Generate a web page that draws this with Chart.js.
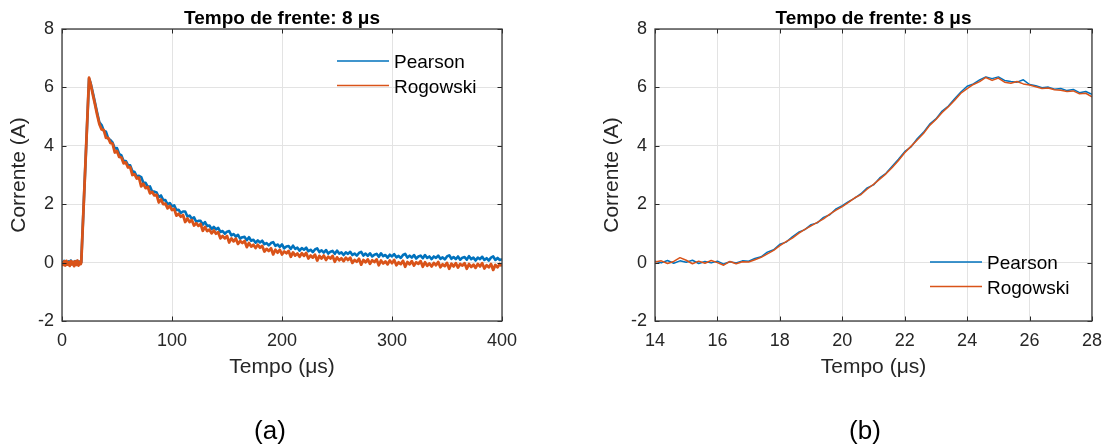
<!DOCTYPE html>
<html><head><meta charset="utf-8">
<script src="https://cdn.jsdelivr.net/npm/chart.js@4.4.1/dist/chart.umd.min.js"></script>
<style>
html,body{margin:0;padding:0;background:#fff;}
#wrap{position:relative;width:1111px;height:446px;overflow:hidden;}
.c{position:absolute;top:0;height:446px;}
</style></head><body>
<div id="wrap">
<div class="c" style="left:0;width:555px;"><canvas id="ca"></canvas></div>
<div class="c" style="left:555px;width:556px;"><canvas id="cb"></canvas></div>
</div>
<script>
// ---------- data ----------
const seriesNames = ['Pearson', 'Rogowski'];
const chartTitle = 'Tempo de frente: 8 μs';
const yTitle = 'Corrente (A)';
const xTitle = 'Tempo (μs)';
const panelLabels = ['(a)', '(b)'];
const yTicks = [-2, 0, 2, 4, 6, 8];
const xTicksA = [0, 100, 200, 300, 400];
const xTicksB = [14, 16, 18, 20, 22, 24, 26, 28];

const timeA = [0,1,2,3,4,5,6,7,8,9,10,11,12,13,14,15,16,17,17.5,24.6,26,28,30,32,34,
36,38,40,42,44,46,48,50,52,54,56,58,60,62,64,66,68,70,72,74,76,78,80,82,84,86,88,90,92,94,96,98,
100,102,104,106,108,110,112,114,116,118,120,122,124,126,128,130,132,134,136,138,140,142,144,146,148,
150,152,154,156,158,160,162,164,166,168,170,172,174,176,178,180,182,184,186,188,190,192,194,196,198,
200,202,204,206,208,210,212,214,216,218,220,222,224,226,228,230,232,234,236,238,240,242,244,246,248,
250,252,254,256,258,260,262,264,266,268,270,272,274,276,278,280,282,284,286,288,290,292,294,296,298,
300,302,304,306,308,310,312,314,316,318,320,322,324,326,328,330,332,334,336,338,340,342,344,346,348,
350,352,354,356,358,360,362,364,366,368,370,372,374,376,378,380,382,384,386,388,390,392,394,396,398,400];

const pearsonA = [0.05,-0.02,0.06,-0.04,0.03,-0.06,0.04,-0.03,0.07,-0.05,0.02,-0.07,0.05,-0.02,0.06,-0.05,0.03,-0.02,0.02,6.30,6.15,5.82,5.47,5.12,4.80,
4.71,4.51,4.48,4.25,4.20,4.11,3.91,3.92,3.72,3.67,3.48,3.48,3.34,3.33,3.13,3.10,2.95,2.97,2.93,2.73,2.73,2.59,2.61,2.43,2.43,2.40,2.24,2.30,2.14,2.14,1.99,2.04,
1.93,1.96,1.80,1.81,1.70,1.75,1.75,1.58,1.61,1.50,1.55,1.40,1.43,1.43,1.30,1.39,1.25,1.27,1.15,1.22,1.14,1.19,1.05,1.08,0.99,
1.06,1.08,0.93,0.98,0.89,0.95,0.82,0.87,0.88,0.77,0.87,0.75,0.78,0.68,0.76,0.69,0.75,0.63,0.67,0.59,0.67,0.70,0.57,0.62,0.54,
0.62,0.49,0.55,0.57,0.47,0.58,0.47,0.51,0.41,0.50,0.44,0.51,0.39,0.44,0.36,0.45,0.49,0.36,0.42,0.34,0.43,0.31,0.37,0.40,0.30,
0.41,0.31,0.35,0.26,0.35,0.30,0.37,0.26,0.31,0.24,0.33,0.37,0.24,0.31,0.23,0.32,0.21,0.27,0.30,0.20,0.32,0.22,0.26,0.17,0.27,
0.21,0.29,0.18,0.23,0.16,0.26,0.30,0.17,0.24,0.17,0.26,0.14,0.21,0.24,0.15,0.26,0.16,0.21,0.12,0.21,0.16,0.24,0.13,0.18,0.11,
0.21,0.25,0.13,0.19,0.12,0.21,0.10,0.17,0.19,0.10,0.22,0.12,0.17,0.07,0.17,0.12,0.20,0.09,0.15,0.07,0.17,0.21,0.09,0.16,0.09,0.12];

const rogowskiA = [0.02,-0.08,0.04,-0.10,0.06,-0.07,0.01,-0.11,0.05,-0.06,0.03,-0.12,0.04,-0.08,0.07,-0.10,0.02,-0.05,0.00,6.33,6.12,5.76,5.42,5.06,4.74,
4.56,4.54,4.27,4.27,4.10,4.07,3.77,3.82,3.62,3.60,3.40,3.43,3.26,3.27,3.00,3.02,2.88,2.91,2.61,2.70,2.55,2.59,2.37,2.42,2.30,2.32,2.06,2.16,2.00,2.02,1.86,1.94,
1.80,1.84,1.61,1.67,1.57,1.63,1.39,1.51,1.39,1.46,1.27,1.35,1.26,1.32,1.09,1.22,1.08,1.13,1.00,1.10,0.99,1.04,0.83,0.91,0.83,
0.91,0.69,0.83,0.73,0.82,0.64,0.74,0.67,0.74,0.53,0.67,0.55,0.61,0.50,0.61,0.51,0.57,0.38,0.47,0.40,0.49,0.28,0.44,0.34,0.44,
0.28,0.38,0.32,0.40,0.20,0.35,0.24,0.31,0.20,0.32,0.23,0.33,0.14,0.24,0.17,0.27,0.07,0.23,0.14,0.24,0.09,0.20,0.14,0.23,0.03,
0.18,0.08,0.15,0.05,0.17,0.09,0.17,-0.01,0.09,0.03,0.13,-0.07,0.09,0.01,0.11,-0.04,0.08,0.02,0.11,-0.09,0.07,-0.03,0.04,-0.06,0.07,
-0.02,0.09,-0.09,0.01,-0.05,0.06,-0.14,0.02,-0.06,0.05,-0.10,0.01,-0.04,0.05,-0.14,0.01,-0.11,-0.03,-0.13,-0.01,-0.09,0.02,-0.16,-0.06,-0.12,
-0.01,-0.21,-0.04,-0.13,-0.02,-0.17,-0.05,-0.10,-0.02,-0.21,-0.05,-0.15,-0.07,-0.18,-0.05,-0.13,-0.02,-0.20,-0.09,-0.16,-0.05,-0.25,-0.08,-0.16,-0.05,-0.12];

const timeB = [14.0,14.2,14.4,14.6,14.8,15.0,15.2,15.4,15.6,15.8,16.0,16.2,16.4,16.6,16.8,17.0,17.2,17.4,17.6,17.8,
18.0,18.2,18.4,18.6,18.8,19.0,19.2,19.4,19.6,19.8,20.0,20.2,20.4,20.6,20.8,21.0,21.2,21.4,21.6,21.8,
22.0,22.2,22.4,22.6,22.8,23.0,23.2,23.4,23.6,23.8,24.0,24.2,24.4,24.6,24.8,25.0,25.2,25.4,25.6,25.8,
26.0,26.2,26.4,26.6,26.8,27.0,27.2,27.4,27.6,27.8,28.0];

const pearsonB = [0.05,-0.01,0.07,-0.02,0.06,0.01,0.08,-0.03,0.04,-0.01,0.05,-0.05,0.03,-0.01,0.06,0.05,0.14,0.20,0.36,0.44,
0.63,0.70,0.88,1.04,1.13,1.30,1.36,1.55,1.64,1.84,1.95,2.09,2.21,2.36,2.56,2.66,2.90,3.06,3.30,3.54,
3.80,3.96,4.24,4.46,4.74,4.92,5.19,5.36,5.61,5.84,6.04,6.12,6.26,6.36,6.30,6.36,6.24,6.20,6.18,6.26,
6.10,6.06,5.99,6.01,5.94,5.96,5.89,5.93,5.82,5.86,5.76];

const rogowskiB = [0.02,0.06,-0.03,0.04,0.17,0.08,-0.04,0.05,-0.02,0.07,0.00,-0.09,0.04,-0.04,0.03,0.02,0.10,0.18,0.30,0.42,
0.58,0.72,0.84,1.00,1.14,1.26,1.38,1.50,1.66,1.80,1.92,2.06,2.22,2.33,2.52,2.68,2.86,3.04,3.26,3.50,
3.76,3.98,4.20,4.42,4.70,4.90,5.14,5.34,5.56,5.80,5.96,6.10,6.20,6.34,6.24,6.32,6.18,6.14,6.20,6.12,
6.08,6.02,5.96,5.98,5.92,5.90,5.86,5.88,5.78,5.80,5.68];

// ---------- styling ----------
const FONT = '"Liberation Sans", Arial, Helvetica, sans-serif';
const BLUE = '#0072BD';
const ORANGE = '#D95319';
const AXIS = '#262626';
const GRID = '#e3e3e3';

const deco = {
  id: 'deco',
  afterDraw(chart, args, opts) {
    const {ctx, chartArea: a, scales: {x, y}} = chart;
    ctx.save();
    ctx.strokeStyle = AXIS; ctx.lineWidth = 1;
    const tl = 4.5;
    ctx.beginPath();
    x.ticks.forEach(t => {
      const px = Math.round(x.getPixelForValue(t.value)) + 0.5;
      ctx.moveTo(px, a.bottom); ctx.lineTo(px, a.bottom - tl);
      ctx.moveTo(px, a.top); ctx.lineTo(px, a.top + tl);
    });
    y.ticks.forEach(t => {
      const py = Math.round(y.getPixelForValue(t.value)) + 0.5;
      ctx.moveTo(a.left, py); ctx.lineTo(a.left + tl, py);
      ctx.moveTo(a.right, py); ctx.lineTo(a.right - tl, py);
    });
    ctx.stroke();
    ctx.strokeStyle = '#3a3a3a'; ctx.lineWidth = 1.3;
    ctx.strokeRect(a.left, a.top, a.right - a.left, a.bottom - a.top);
    ctx.fillStyle = '#000';
    ctx.font = 'bold 19px ' + FONT;
    ctx.textAlign = 'center'; ctx.textBaseline = 'alphabetic';
    ctx.fillText(opts.title, (a.left + a.right) / 2, 24);
    ctx.font = '19px ' + FONT;
    ctx.textAlign = 'left';
    chart.data.datasets.forEach((ds, i) => {
      const ly = opts.legendY + i * 24.6;
      ctx.strokeStyle = ds.borderColor; ctx.lineWidth = 1.5;
      ctx.beginPath(); ctx.moveTo(opts.legendX, ly); ctx.lineTo(opts.legendX + 52, ly); ctx.stroke();
      ctx.fillStyle = '#000';
      ctx.fillText(ds.label, opts.legendX + 57, ly + 7);
    });
    ctx.font = '26px ' + FONT;
    ctx.textAlign = 'center';
    ctx.fillStyle = '#000';
    ctx.fillText(opts.panel, opts.panelX, 439);
    ctx.restore();
  }
};

function makeChart(id, time, p, r, xmin, xmax, xticks, pad, lw, deco_opts) {
  return new Chart(document.getElementById(id), {
    type: 'line',
    data: {
      datasets: [
        {label: seriesNames[0], data: time.map((t, i) => ({x: t, y: p[i]})), borderColor: BLUE, borderWidth: lw[0], pointRadius: 0, tension: 0, borderJoinStyle: 'round', order: 2},
        {label: seriesNames[1], data: time.map((t, i) => ({x: t, y: r[i]})), borderColor: ORANGE, borderWidth: lw[1], pointRadius: 0, tension: 0, borderJoinStyle: 'round', order: 1}
      ]
    },
    options: {
      responsive: true, maintainAspectRatio: false, animation: false,
      layout: {padding: pad},
      plugins: {legend: {display: false}, tooltip: {enabled: false}, title: {display: false}, deco: deco_opts},
      scales: {
        x: {
          type: 'linear', min: xmin, max: xmax,
          afterBuildTicks: s => { s.ticks = xticks.map(v => ({value: v})); },
          afterFit: s => { s.height = 125; },
          grid: {color: GRID, lineWidth: 1, drawTicks: false},
          border: {display: false},
          ticks: {color: AXIS, font: {family: FONT, size: 18}, padding: 9, maxRotation: 0},
          title: {display: true, text: xTitle, color: AXIS, font: {family: FONT, size: 21}, padding: {top: 0, bottom: 66}}
        },
        y: {
          type: 'linear', min: -2, max: 8,
          afterBuildTicks: s => { s.ticks = yTicks.map(v => ({value: v})); },
          afterFit: s => { s.width = 62; },
          grid: {color: GRID, lineWidth: 1, drawTicks: false},
          border: {display: false},
          ticks: {color: AXIS, font: {family: FONT, size: 18}, padding: 8},
          title: {display: true, text: yTitle, color: AXIS, font: {family: FONT, size: 21}, padding: {top: 7, bottom: 0}}
        }
      }
    },
    plugins: [deco]
  });
}

makeChart('ca', timeA, pearsonA, rogowskiA, 0, 400, xTicksA,
  {left: 0, right: 53, top: 29, bottom: 0}, [2.6, 2.8],
  {title: chartTitle, legendX: 337, legendY: 61, panel: panelLabels[0], panelX: 270});
makeChart('cb', timeB, pearsonB, rogowskiB, 14, 28, xTicksB,
  {left: 38, right: 16, top: 29, bottom: 0}, [1.5, 1.5],
  {title: chartTitle, legendX: 375, legendY: 262, panel: panelLabels[1], panelX: 310});
</script>
</body></html>
